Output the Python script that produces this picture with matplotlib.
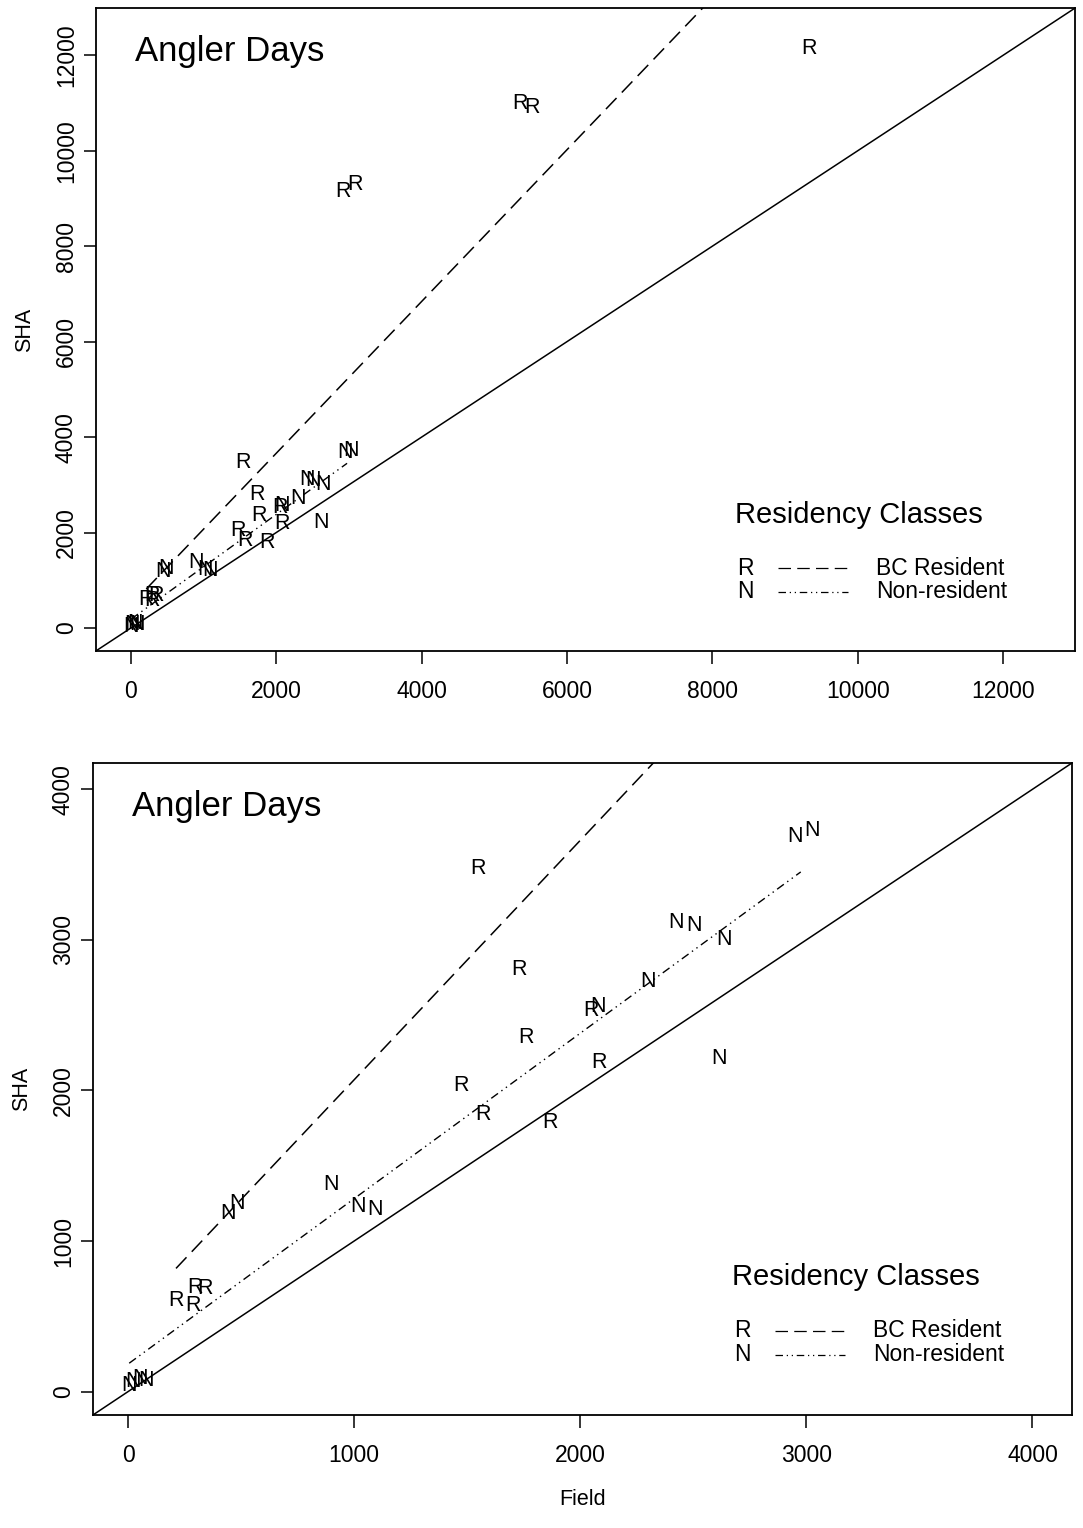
import matplotlib
matplotlib.use("Agg")
import matplotlib.pyplot as plt
import numpy as np

plt.rcParams["font.family"] = ["Liberation Sans", "DejaVu Sans"]

# BC Resident (R) : field vs SHA angler days
r_field = np.array([1549, 1730, 2049, 1761, 2084, 1473, 1571, 1867,
                    212, 288, 296, 341, 2918, 3083, 5354, 5519, 9331])
r_sha = np.array([3475, 2804, 2532, 2352, 2186, 2033, 1841, 1787,
                  605, 571, 691, 684, 9150, 9300, 10990, 10900, 12150])

# Non-resident (N)
n_field = np.array([2951, 3027, 2425, 2504, 2637, 2301, 2080, 2615,
                    898, 1018, 1093, 442, 482, 5, 22, 53, 80])
n_sha = np.array([3688, 3728, 3116, 3096, 3003, 2724, 2558, 2213,
                  1375, 1229, 1209, 1183, 1249, 40, 66, 86, 73])

# fitted lines (intercept, slope)
r_fit = (481, 1.59)
n_fit = (183, 1.0985)
n_fit_end = 2975

top_ticks = [0, 2000, 4000, 6000, 8000, 10000, 12000]
bot_ticks = [0, 1000, 2000, 3000, 4000]

r_ls = (0, (10, 5))
n_ls = (0, (6, 3, 1, 3, 1, 3))

fig = plt.figure(figsize=(10.83, 15.28), dpi=100)
ax1 = fig.add_axes([0.0886, 0.574, 0.904, 0.4207])
ax2 = fig.add_axes([0.0859, 0.074, 0.904, 0.4267])


def panel(ax, lims, ticks):
    lo, hi = lims
    ax.plot([lo, hi], [lo, hi], color="black", lw=1.1)
    for fx, fy, lab in [(r_field, r_sha, "R"), (n_field, n_sha, "N")]:
        for x, y in zip(fx, fy):
            ax.text(x, y, lab, ha="center", va="center", fontsize=15.5,
                    clip_on=True)
    xr = np.array([r_field.min(), r_field.max()])
    ax.plot(xr, r_fit[0] + r_fit[1] * xr, color="black", lw=1.1, ls=r_ls)
    xn = np.array([n_field.min(), n_fit_end])
    ax.plot(xn, n_fit[0] + n_fit[1] * xn, color="black", lw=1.0, ls=n_ls)
    ax.set_xlim(lo, hi)
    ax.set_ylim(lo, hi)
    ax.set_xticks(ticks)
    ax.set_yticks(ticks)
    ax.tick_params(direction="out", length=9, width=1.1, labelsize=16.5, pad=12)
    ax.tick_params(axis="y", pad=4)
    for t in ax.get_yticklabels():
        t.set_rotation(90)
        t.set_va("center")
    for s in ax.spines.values():
        s.set_linewidth(1.3)
    ax.set_ylabel("SHA", fontsize=15.5, labelpad=14)
    ax.text(0.04, 0.933, "Angler Days", transform=ax.transAxes,
            fontsize=25, ha="left", va="center")
    # legend drawn by hand, like R's
    ax.text(0.653, 0.211, "Residency Classes", transform=ax.transAxes,
            fontsize=21, ha="left", va="center")
    for yy, lab, ls, name in [(0.129, "R", r_ls, "BC Resident"),
                              (0.092, "N", n_ls, "Non-resident")]:
        ax.text(0.655, yy, lab, transform=ax.transAxes, fontsize=16.5,
                ha="left", va="center")
        ax.plot([0.697, 0.768], [yy, yy], transform=ax.transAxes,
                color="black", lw=0.9, ls=ls)
        ax.text(0.797, yy, name, transform=ax.transAxes, fontsize=16.5,
                ha="left", va="center")


panel(ax1, (-480, 12990), top_ticks)
panel(ax2, (-155, 4175), bot_ticks)
ax2.set_xlabel("Field", fontsize=15.5, labelpad=16)

fig.savefig("out.png", dpi=100)
